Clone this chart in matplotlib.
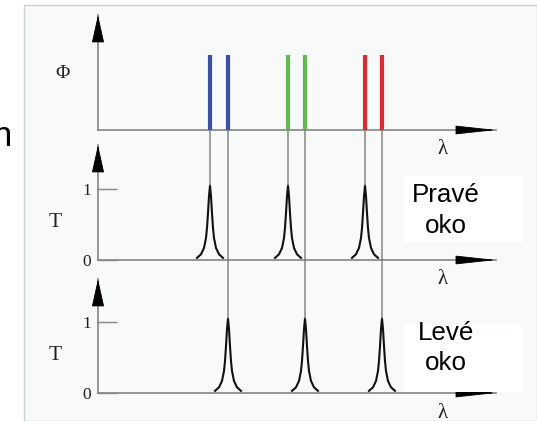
import matplotlib
matplotlib.use("Agg")
import matplotlib.pyplot as plt
from matplotlib.patches import Rectangle, ConnectionPatch

# wavelengths of the projector lines (arbitrary units along the lambda axis)
blue_lines = [112, 130]
green_lines = [190, 207]
red_lines = [267, 284]
line_colors = ["#3b4fa6", "#62b94f", "#d92b31"]
phi_height = 1.0

# filter transmission peaks: right eye passes first line of each pair, left eye the second
right_eye = [blue_lines[0], green_lines[0], red_lines[0]]
left_eye = [blue_lines[1], green_lines[1], red_lines[1]]

# peak profile (offset from centre, transmission)
peak_dl = [-13, -9, -6, -4, -3, -2, -1, 0, 1, 2, 3, 4, 6, 9, 13]
peak_T = [0.03, 0.08, 0.17, 0.31, 0.45, 0.66, 0.9, 1.05, 0.9, 0.66, 0.45, 0.31, 0.17, 0.08, 0.03]

W, H = 537, 421
fig = plt.figure(figsize=(W / 100, H / 100), dpi=100)
fig.patch.set_facecolor("white")


def box(x0, y0, x1, y1):
    # pixel box (top-left origin) -> figure fraction rect
    return [x0 / W, 1 - y1 / H, (x1 - x0) / W, (y1 - y0) / H]


def frac(x, y):
    return x / W, 1 - y / H


# light panel behind the drawing
x0, y0 = frac(24, 421)
fig.add_artist(Rectangle((x0, y0), 1 - x0, frac(0, 5)[1] - y0, transform=fig.transFigure,
                         facecolor="#f8fafa", edgecolor="#cfcfcf", lw=1.0, zorder=-5))

# cut off letter at the left margin (it is clipped in the original too)
fig.text(*frac(12, 146), "n", ha="right", va="baseline", fontsize=25,
         family="Liberation Sans", color="black")

axis_gray = "#858585"
serif = "Liberation Serif"
label_col = "#222222"

ax_top = fig.add_axes(box(98, 15, 496, 130))
ax_mid = fig.add_axes(box(98, 145, 496, 260))
ax_bot = fig.add_axes(box(98, 279, 496, 393))

ax_top.set_ylim(0, 115 / 75)
ax_mid.set_ylim(0, 115 / 71)
ax_bot.set_ylim(0, 114 / 71)

for ax in (ax_top, ax_mid, ax_bot):
    ax.set_xlim(0, 398)
    ax.patch.set_visible(False)
    for s in ("top", "right"):
        ax.spines[s].set_visible(False)
    for s in ("left", "bottom"):
        ax.spines[s].set_color(axis_gray)
        ax.spines[s].set_linewidth(1.2)
    ax.set_xticks([])
    # arrow heads on both axes
    ax.annotate("", xy=(0, 1), xycoords="axes fraction", xytext=(0, -25), textcoords="offset pixels",
                arrowprops=dict(arrowstyle="-|>,head_length=1.8,head_width=0.4", color="black",
                                lw=0.6, shrinkA=0, shrinkB=0, mutation_scale=10),
                annotation_clip=False)
    ax.annotate("", xy=(1, 0), xycoords="axes fraction", xytext=(-36, 0), textcoords="offset pixels",
                arrowprops=dict(arrowstyle="-|>,head_length=2.6,head_width=0.28", color="black",
                                lw=0.6, shrinkA=0, shrinkB=0, mutation_scale=10),
                annotation_clip=False)
    ax.annotate("λ", xy=(345, 0), xytext=(0, -20), textcoords="offset pixels",
                ha="center", va="center", fontsize=15, family=serif, color=label_col)

ax_top.set_yticks([])
ax_top.set_ylabel("Φ", rotation=0, fontsize=14, family=serif, color=label_col)
ax_top.yaxis.set_label_coords(-0.09, 0.42)

for ax in (ax_mid, ax_bot):
    ax.set_yticks([0, 1])
    ax.set_yticklabels(["0", "1"])
    ax.tick_params(axis="y", direction="in", length=14, width=1.0, color=axis_gray, pad=5,
                   labelsize=12.5, labelcolor=label_col, labelfontfamily=serif)
    ax.set_ylabel("T", rotation=0, fontsize=15.5, family=serif, color=label_col)
    ax.yaxis.set_label_coords(-0.108, 0.245)

# colored spectral lines
for lines, c in zip([blue_lines, green_lines, red_lines], line_colors):
    ax_top.vlines(lines, 0, phi_height, colors=c, lw=3.0, zorder=3)

# transmission peaks
for ax, centres in ((ax_mid, right_eye), (ax_bot, left_eye)):
    for c in centres:
        ax.plot([c + d for d in peak_dl], peak_T, color="#111111", lw=1.5, zorder=3)

# connecting guide lines from each spectral line down to its filter peak
for centres, ax in ((right_eye, ax_mid), (left_eye, ax_bot)):
    for c in centres:
        con = ConnectionPatch(xyA=(c, 0), coordsA=ax_top.transData,
                              xyB=(c, max(peak_T)), coordsB=ax.transData,
                              color="#6f6f6f", lw=0.9, zorder=1)
        fig.add_artist(con)

# eye labels on white boxes
for (bx0, by0, bx1, by1), (l1, l2), (b1, b2) in (
        ((403, 176, 523, 242), ("Pravé", "oko"), (202, 233)),
        ((403, 325, 523, 392), ("Levé", "oko"), (340, 370))):
    rx, ry = frac(bx0, by1)
    rw = (bx1 - bx0) / W
    rh = (by1 - by0) / H
    fig.add_artist(Rectangle((rx, ry), rw, rh, transform=fig.transFigure,
                             facecolor="white", edgecolor="none", zorder=2))
    fig.text(*frac(446, b1), l1, ha="center", va="baseline", fontsize=18.7,
             family="Liberation Sans", color="black", zorder=3)
    fig.text(*frac(446, b2), l2, ha="center", va="baseline", fontsize=18.7,
             family="Liberation Sans", color="black", zorder=3)

fig.savefig("out.png", dpi=100)
